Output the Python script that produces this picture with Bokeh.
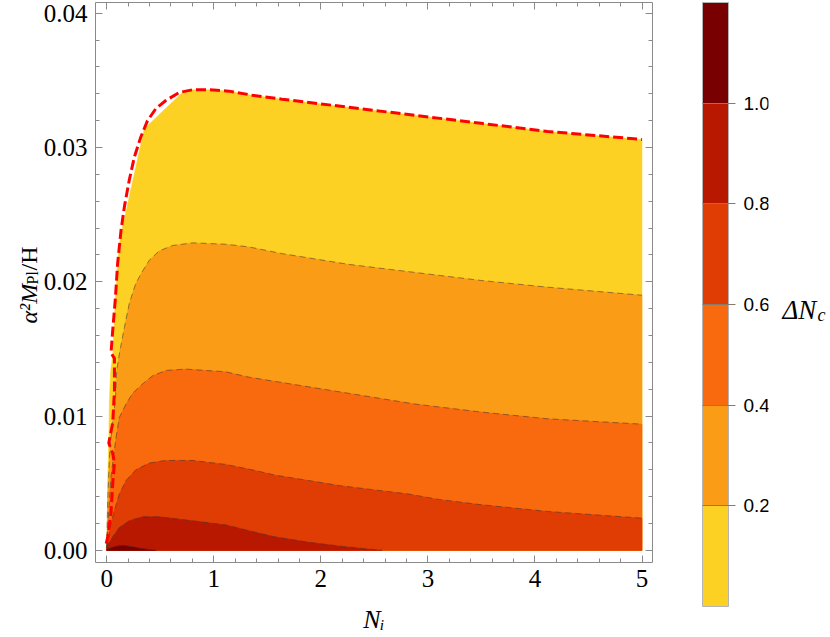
import math
from bokeh.plotting import figure
from bokeh.models import (LinearAxis, FixedTicker, NumeralTickFormatter, Range1d,
                          ColorBar, LinearColorMapper)
from bokeh.layouts import row
from bokeh.embed import file_html
from bokeh.resources import INLINE
from bokeh.core.properties import value

# ---------------- data ----------------
x_lo, x_hi = -0.105, 5.098
y_lo, y_hi = -0.0009, 0.0408
y_floor = 0.0

x_major = [0, 1, 2, 3, 4, 5]
x_minor = [0.2, 0.4, 0.6, 0.8, 1.2, 1.4, 1.6, 1.8, 2.2, 2.4, 2.6, 2.8,
           3.2, 3.4, 3.6, 3.8, 4.2, 4.4, 4.6, 4.8]
y_major = [0.0, 0.01, 0.02, 0.03, 0.04]
y_minor = [0.002, 0.004, 0.006, 0.008, 0.012, 0.014, 0.016, 0.018,
           0.022, 0.024, 0.026, 0.028, 0.032, 0.034, 0.036, 0.038]

levels = [0.2, 0.4, 0.6, 0.8, 1.0]
band_lo = [0.0, 0.2, 0.4, 0.6, 0.8, 1.0]
band_hi = [0.2, 0.4, 0.6, 0.8, 1.0, 1.2]
band_colors = ["#FDD123", "#FA9C16", "#F86A0D", "#E03D04", "#B81800", "#780000"]
cb_ticks = [0.2, 0.4, 0.6, 0.8, 1.0]

# outer boundary of the region (red dashed curve)
edge_x = [-0.005, 0.009, 0.040, 0.056, 0.072, 0.056, 0.019, 0.056, 0.072, 0.072,
          0.040, 0.056, 0.081, 0.102, 0.133, 0.165, 0.211, 0.258, 0.319, 0.381,
          0.459, 0.552, 0.676, 0.800, 0.955, 1.141, 1.358, 1.637, 2.258, 2.877,
          3.498, 4.118, 5.0]
edge_y = [0.0005, 0.0010, 0.0028, 0.0050, 0.0065, 0.0072, 0.0080, 0.0095, 0.0119, 0.0143,
          0.0147, 0.0164, 0.0188, 0.0214, 0.0238, 0.0256, 0.0276, 0.0293, 0.0308, 0.0320,
          0.0329, 0.0335, 0.0341, 0.0343, 0.0343, 0.0342, 0.0339, 0.0336, 0.0330, 0.0324,
          0.0318, 0.0312, 0.0306]

# edge of the filled (lowest band) region
fill_x = [0.0, 0.005, 0.009, 0.019, 0.025, 0.037, 0.056, 0.081, 0.102, 0.126,
          0.351, 0.707, 0.800, 0.955, 1.141, 1.358, 1.637, 2.258, 2.877, 3.498,
          4.118, 5.0]
fill_y = [0.0, 0.0022, 0.0052, 0.0082, 0.0112, 0.0134, 0.0145, 0.0188, 0.0214, 0.0233,
          0.0314, 0.0341, 0.0343, 0.0343, 0.0342, 0.0339, 0.0336, 0.0330, 0.0324, 0.0318,
          0.0312, 0.0306]

# contour  dN_c = 0.2
c02_x = [0.0, 0.009, 0.028, 0.056, 0.081, 0.093, 0.124, 0.165, 0.211, 0.272, 0.335,
         0.397, 0.490, 0.614, 0.800, 1.110, 1.327, 1.637, 2.258, 2.877, 3.498, 4.118, 5.0]
c02_y = [0.0002, 0.0037, 0.0074, 0.0097, 0.0112, 0.0134, 0.0149, 0.0166, 0.0184, 0.0199,
         0.0208, 0.0216, 0.0223, 0.0227, 0.0229, 0.0228, 0.0226, 0.0221, 0.0213, 0.0207,
         0.0201, 0.0196, 0.0190]
# contour  dN_c = 0.4
c04_x = [0.0, 0.009, 0.025, 0.040, 0.062, 0.087, 0.118, 0.180, 0.242, 0.335, 0.428,
         0.552, 0.738, 1.110, 1.327, 1.637, 2.258, 2.877, 3.498, 4.118, 5.0]
c04_y = [0.0002, 0.0015, 0.0037, 0.0055, 0.0069, 0.0084, 0.0099, 0.0109, 0.0117, 0.0124,
         0.0130, 0.0134, 0.0135, 0.0133, 0.0129, 0.0125, 0.0117, 0.0109, 0.0103, 0.0098,
         0.0094]
# contour  dN_c = 0.6
c06_x = [0.0, 0.019, 0.040, 0.072, 0.118, 0.180, 0.272, 0.397, 0.552, 0.800, 1.110,
         1.358, 1.575, 1.886, 2.195, 2.505, 2.816, 3.095, 3.498, 4.118, 5.0]
c06_y = [0.0002, 0.0010, 0.0020, 0.0030, 0.0042, 0.0052, 0.0060, 0.0065, 0.0067, 0.0067,
         0.0064, 0.0060, 0.0056, 0.0052, 0.0048, 0.0045, 0.0042, 0.0038, 0.0034, 0.0029,
         0.0024]
# contour  dN_c = 0.8
c08_x = [0.0, 0.009, 0.056, 0.118, 0.211, 0.335, 0.490, 0.800, 1.110, 1.358, 1.575,
         1.886, 2.195, 2.57]
c08_y = [0.0002, 0.0004, 0.0010, 0.0017, 0.0022, 0.0025, 0.0025, 0.0022, 0.0019, 0.0014,
         0.0010, 0.0006, 0.0003, 0.0]
# contour  dN_c = 1.0
c10_x = [0.0, 0.118, 0.180, 0.335, 0.46]
c10_y = [0.0001, 0.00037, 0.00035, 0.00013, 0.0]

contours_x = [c02_x, c04_x, c06_x, c08_x, c10_x]
contours_y = [c02_y, c04_y, c06_y, c08_y, c10_y]

# ---------------- layout ----------------
H = 637
BT, BB = 2, 75                    # shared top / bottom borders (frame: 2 .. 562)
W_YL, W_MAIN, W_CB = 40, 642, 86
W_DN = 830 - W_YL - W_MAIN - W_CB
SERIF = "Liberation Serif"
AX_COL = "#8a8a8a"


def bare_figure(width, xr, yr, bl=0, br=0):
    f = figure(width=width, height=H, x_range=xr, y_range=yr,
               output_backend="svg", toolbar_location=None,
               x_axis_location=None, y_axis_location=None,
               min_border_left=bl, min_border_right=br,
               min_border_top=BT, min_border_bottom=BB)
    f.xgrid.visible = False
    f.ygrid.visible = False
    f.outline_line_color = None
    f.border_fill_color = "white"
    f.background_fill_color = "white"
    return f


# ---- main plot ----
p = figure(width=W_MAIN, height=H, x_range=Range1d(x_lo, x_hi),
           y_range=Range1d(y_lo, y_hi), output_backend="svg", toolbar_location=None,
           min_border_left=53, min_border_right=30,
           min_border_top=BT, min_border_bottom=BB)
p.xgrid.visible = False
p.ygrid.visible = False
p.outline_line_color = AX_COL
p.background_fill_color = "white"
p.border_fill_color = "white"

region_xs = [fill_x + [fill_x[-1], fill_x[0]]]
region_ys = [fill_y + [y_floor, y_floor]]
for cx, cy in zip(contours_x, contours_y):
    region_xs.append(cx + [cx[-1], cx[0]])
    region_ys.append(cy + [y_floor, y_floor])
p.patches(xs=region_xs, ys=region_ys, fill_color=band_colors, line_color=band_colors,
          line_width=0.5)
p.multi_line(xs=contours_x, ys=contours_y, line_color="#3c3c3c", line_alpha=0.55,
             line_width=1, line_dash="6 4")
p.line(edge_x, edge_y, line_color="#FF0000", line_width=3, line_dash="10 4")


def style_ticks(ax):
    ax.axis_line_color = None
    ax.major_tick_line_color = AX_COL
    ax.minor_tick_line_color = AX_COL
    ax.major_tick_in = 7
    ax.major_tick_out = 0
    ax.minor_tick_in = 4
    ax.minor_tick_out = 0


xa = p.xaxis[0]
xa.ticker = FixedTicker(ticks=x_major, minor_ticks=x_minor)
xa.formatter = NumeralTickFormatter(format="0")
style_ticks(xa)
xa.major_label_text_font = SERIF
xa.major_label_text_font_size = "25px"
xa.major_label_text_color = "black"
xa.major_label_standoff = 7
xa.axis_label = "N\u1d62"
xa.axis_label_text_font = SERIF
xa.axis_label_text_font_style = "italic"
xa.axis_label_text_font_size = "26px"
xa.axis_label_text_color = "black"
xa.axis_label_standoff = 15

ya = p.yaxis[0]
ya.ticker = FixedTicker(ticks=y_major, minor_ticks=y_minor)
ya.formatter = NumeralTickFormatter(format="0.00")
style_ticks(ya)
ya.major_label_text_font = SERIF
ya.major_label_text_font_size = "25px"
ya.major_label_text_color = "black"
ya.major_label_standoff = 8

# mirrored ticks (no labels) on the top and right edges
for side, majors, minors in (("above", x_major, x_minor), ("right", y_major, y_minor)):
    for ticks, length in ((majors, 7), (minors, 4)):
        ax = LinearAxis(ticker=FixedTicker(ticks=[], minor_ticks=ticks))
        ax.axis_line_color = None
        ax.major_tick_line_color = None
        ax.minor_tick_line_color = AX_COL
        ax.minor_tick_in = length
        ax.minor_tick_out = 0
        ax.major_tick_in = 0
        ax.major_tick_out = 0
        ax.major_label_standoff = 0
        p.add_layout(ax, side)

# ---- y-axis title (pieces, so sub/superscripts stay real text) ----
yl = bare_figure(W_YL, Range1d(0, W_YL), Range1d(H - BB, BT))
ang = math.pi / 2
yl.text(x=[28], y=[323], text=["α²M"], angle=ang, text_font=value(SERIF),
        text_font_style="italic", text_font_size="24px", text_color="black",
        text_align="left", text_baseline="alphabetic")
yl.text(x=[32], y=[284], text=["Pl"], angle=ang, text_font=value(SERIF),
        text_font_size="16px", text_color="black",
        text_align="left", text_baseline="alphabetic")
yl.text(x=[28], y=[270], text=["/H"], angle=ang, text_font=value(SERIF),
        text_font_size="24px", text_color="black",
        text_align="left", text_baseline="alphabetic")

# ---- colour bar ----
cbf = bare_figure(W_CB, Range1d(0, 1), Range1d(0, 1), bl=20, br=W_CB - 21)
mapper = LinearColorMapper(palette=band_colors, low=band_lo[0], high=band_hi[-1])
cbar = ColorBar(color_mapper=mapper, ticker=FixedTicker(ticks=cb_ticks, minor_ticks=[]),
                formatter=NumeralTickFormatter(format="0.0"),
                width=26, height=604, location="top_left", margin=0, padding=0,
                bar_line_color="#b4b4b4", border_line_color=None,
                background_fill_alpha=0,
                major_tick_in=26, major_tick_out=7,
                major_tick_line_color="#8a7a6a", minor_tick_line_color=None,
                label_standoff=8, major_label_text_font="Liberation Sans",
                major_label_text_font_size="19px", major_label_text_color="black")
cbf.add_layout(cbar, "right")
cbf.rect(x=[0.5], y=[0.5], width=[0.0], height=[0.0], fill_alpha=0, line_alpha=0)

# ---- colour-bar title ----
x0_dn = W_YL + W_MAIN + W_CB
dn = bare_figure(W_DN, Range1d(x0_dn, 830), Range1d(H - BB, BT))
dn.text(x=[782], y=[309], text=["ΔN"], text_font=value(SERIF),
        text_font_style="italic", text_font_size="27px", text_color="black",
        text_align="left", text_baseline="alphabetic")
dn.text(x=[817], y=[314], text=["c"], text_font=value(SERIF),
        text_font_style="italic", text_font_size="18px", text_color="black",
        text_align="left", text_baseline="alphabetic")

layout = row(yl, p, cbf, dn)
open("out.html", "w").write(file_html(layout, INLINE))
